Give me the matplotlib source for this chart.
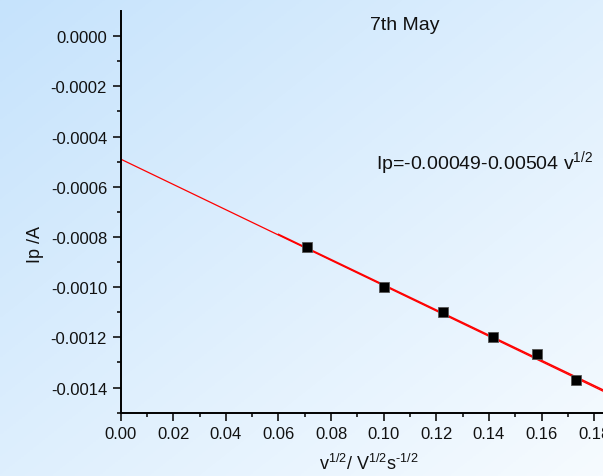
import numpy as np
import matplotlib
matplotlib.use("Agg")
from matplotlib import pyplot as plt
from matplotlib.colors import LinearSegmentedColormap

plt.rcParams['font.family'] = ['Liberation Sans', 'DejaVu Sans']
plt.rcParams['mathtext.default'] = 'regular'

# data
scan_sqrt = [0.0707, 0.1000, 0.1225, 0.1414, 0.1581, 0.1732]  # v^1/2
peak_current = [-0.00084, -0.00100, -0.00110, -0.00120, -0.001268, -0.001368]
intercept = -0.00049
slope = -0.00504

fig = plt.figure(figsize=(6.03, 4.77), dpi=100)

# diagonal light blue background
bg = fig.add_axes([0, 0, 1, 1], zorder=-10)
gx, gy = np.meshgrid(np.linspace(0, 1, 200), np.linspace(0, 1, 200))
cmap = LinearSegmentedColormap.from_list("bg", ["#c6e3fc", "#f6fbff"])
bg.imshow(0.5 * gx + 0.5 * gy, cmap=cmap, origin="upper", aspect="auto",
          extent=[0, 1, 0, 1], vmin=0, vmax=1)
bg.axis("off")

W, H = 603, 477
ax = fig.add_axes([120.7 / W, 1 - 413.7 / H, (W - 120.7) / W, (413.7 - 12) / H])
ax.patch.set_alpha(0)

x_max = (W - 120.7) / 52.6 * 0.02
ax.set_xlim(0, x_max)
ax.set_ylim(-0.0015, 0.0001)

# fit line over the whole axis, second fit over the data range
xs = np.array([0, x_max])
ax.plot(xs, intercept + slope * xs, color="red", lw=0.9, zorder=2)
p = np.polyfit(scan_sqrt, peak_current, 1)
xs2 = np.array([0.06, x_max])
ax.plot(xs2, np.polyval(p, xs2), color="red", lw=1.1, zorder=2)

ax.plot(scan_sqrt, peak_current, "s", color="black", markersize=6.5,
        markeredgecolor="#555555", markeredgewidth=0.6, zorder=3)

for s in ["top", "right"]:
    ax.spines[s].set_visible(False)
for s in ["left", "bottom"]:
    ax.spines[s].set_linewidth(1.4)

ax.set_xticks(np.arange(0, 0.19, 0.02))
ax.set_xticks(np.arange(0.01, 0.19, 0.02), minor=True)
ax.set_yticks(np.arange(-0.0014, 0.00005, 0.0002))
ax.set_yticks(np.arange(-0.0015, 0.0001, 0.0002), minor=True)
ax.set_xticklabels([f"{v:.2f}" for v in np.arange(0, 0.19, 0.02)])
ax.set_yticklabels([f"{v:.4f}" if abs(v) > 1e-9 else "0.0000"
                    for v in np.arange(-0.0014, 0.00005, 0.0002)])
ax.tick_params(which="major", direction="out", length=5.8, width=1.2,
               labelsize=12, pad=4, colors="#111111")
ax.tick_params(which="minor", direction="out", length=3, width=1.2,
               colors="#111111")

fig.text(35 / W, 1 - 245 / H, "Ip /A", rotation=90, ha="center", va="center",
         fontsize=13, color="#111111")
fig.text(369 / W, 1 - 464 / H, "v$^{1/2}$/ V$^{1/2}$s$^{\u20101/2}$",
         ha="center", va="center", fontsize=13, color="#111111")
fig.text(405 / W, 1 - 26 / H, "7th May", ha="center", va="center",
         fontsize=14, color="#111111")
fig.text(376 / W, 1 - 163 / H, "Ip=-0.00049-0.00504 v$^{1/2}$",
         ha="left", va="center", fontsize=14, color="#111111")

fig.savefig("out.png", dpi=100)
